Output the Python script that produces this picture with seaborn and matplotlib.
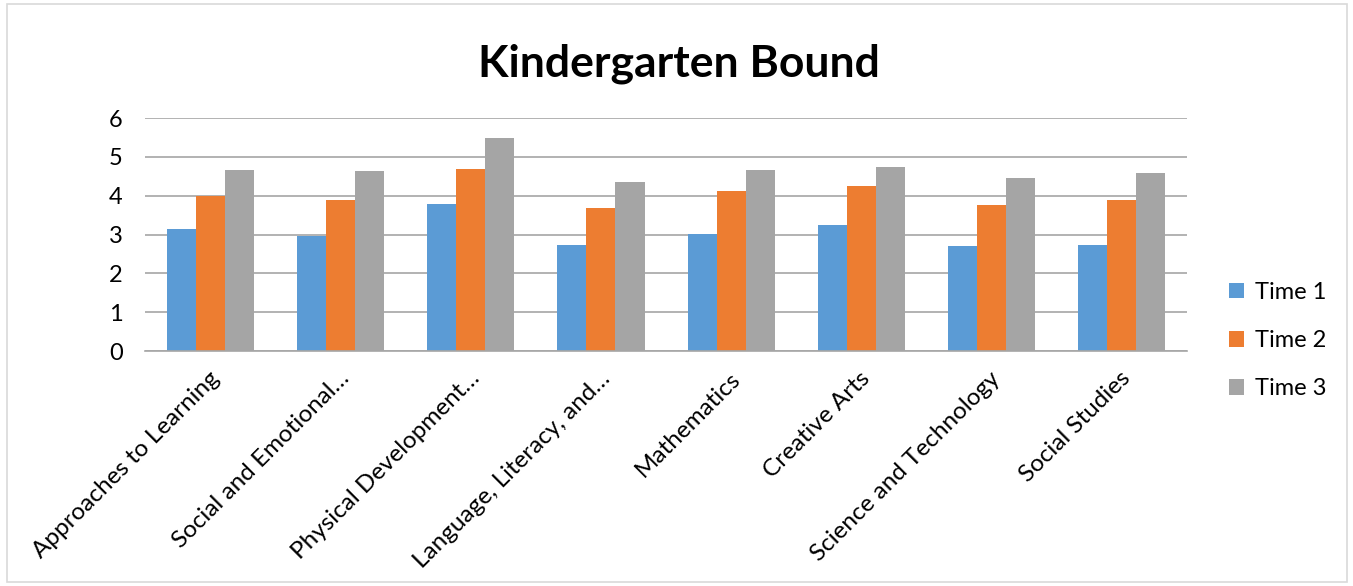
import pandas as pd
import matplotlib.pyplot as plt
import seaborn as sns
import matplotlib.transforms as mtransforms
from matplotlib.patches import Rectangle

# Données
categories = [
    "Approaches to Learning",
    "Social and Emotional…",
    "Physical Development…",
    "Language, Literacy, and…",
    "Mathematics",
    "Creative Arts",
    "Science and Technology",
    "Social Studies",
]
time1 = [3.13, 2.97, 3.78, 2.72, 3.02, 3.24, 2.71, 2.73]
time2 = [3.99, 3.89, 4.70, 3.67, 4.12, 4.25, 3.77, 3.88]
time3 = [4.66, 4.63, 5.49, 4.36, 4.67, 4.74, 4.45, 4.59]
series = ["Time 1", "Time 2", "Time 3"]
colors = ["#5B9BD5", "#ED7D31", "#A5A5A5"]

df = pd.DataFrame({
    "category": categories * 3,
    "value": time1 + time2 + time3,
    "series": [s for s in series for _ in categories],
})

sns.set_style("white")
plt.rcParams["font.family"] = ["Lato", "DejaVu Sans"]
plt.rcParams["text.color"] = "black"

fig = plt.figure(figsize=(13.53, 5.86), dpi=100)
ax = fig.add_axes([0.1072, 0.401, 0.7701, 0.3976])

sns.barplot(
    data=df, x="category", y="value", hue="series",
    palette=colors, width=0.67, ax=ax, errorbar=None,
    edgecolor="none", linewidth=0, saturation=1,
)

ax.set_ylim(0, 6)
ax.set_yticks(range(0, 7))
ax.yaxis.grid(True, color="#A6A6A6", linewidth=1.2)
ax.set_axisbelow(True)
for s in ["left", "right", "top"]:
    ax.spines[s].set_visible(False)
ax.spines["bottom"].set_color("#A6A6A6")
ax.spines["bottom"].set_linewidth(1.2)
ax.tick_params(axis="y", length=0, labelsize=17, labelcolor="black", pad=16)
ax.tick_params(axis="x", length=0, labelsize=17.5, labelcolor="black", pad=12)
ax.set_xlabel("")
ax.set_ylabel("")
shift = mtransforms.ScaledTranslation(-2 / 100, 0, fig.dpi_scale_trans)
for lab in ax.get_xticklabels():
    lab.set_rotation(45)
    lab.set_ha("right")
    lab.set_rotation_mode("anchor")
    lab.set_transform(lab.get_transform() + shift)

leg = ax.legend(
    loc="center left", bbox_to_anchor=(1.02, 0.045), frameon=False,
    fontsize=17, handlelength=0.65, handleheight=0.65, labelspacing=1.15,
    handletextpad=0.45,
)
for t in leg.get_texts():
    t.set_color("black")

fig.suptitle("Kindergarten Bound", fontsize=32, fontweight="bold",
             y=0.925, x=0.502, color="black")

fig.patches.append(Rectangle((7 / 1353, 4 / 586), 1340 / 1353, 578 / 586,
                             transform=fig.transFigure, fill=False,
                             edgecolor="#D9D9D9", linewidth=1.2))

plt.savefig("out.png", dpi=100)
